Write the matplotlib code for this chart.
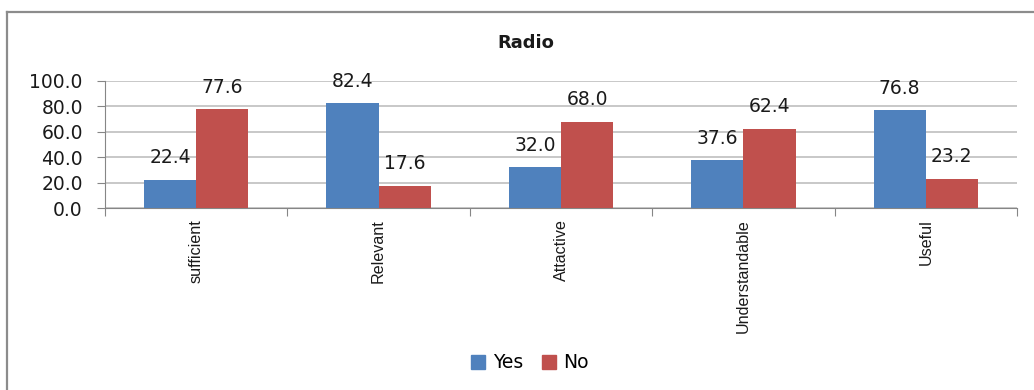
import matplotlib
matplotlib.use('Agg')
import matplotlib.pyplot as plt
from matplotlib.lines import Line2D
from matplotlib.patches import Patch
import numpy as np

categories = ['sufficient', 'Relevant', 'Attactive', 'Understandable', 'Useful']
yes_values = [22.4, 82.4, 32.0, 37.6, 76.8]
no_values = [77.6, 17.6, 68.0, 62.4, 23.2]
yticks = [0, 20, 40, 60, 80, 100]

BLUE = '#4F81BD'
RED = '#C0504D'
W, H = 1034, 390

fig = plt.figure(figsize=(W / 100, H / 100), dpi=100)
fig.patch.set_facecolor('white')

# outer chart frame (left and top edges only show)
frame_kw = dict(color='#8c8c8c', lw=1.6, transform=fig.transFigure)
fig.add_artist(Line2D([7 / W, 7 / W], [0, 1 - 12 / H], **frame_kw))
fig.add_artist(Line2D([7 / W, 1], [1 - 12 / H, 1 - 12 / H], **frame_kw))

ax = fig.add_axes([105 / W, 1 - 208 / H, (1017 - 105) / W, (208 - 81) / H])

x = np.arange(len(categories))
bw = 0.2857
bars_yes = ax.bar(x - bw / 2, yes_values, bw, color=BLUE, zorder=3)
bars_no = ax.bar(x + bw / 2, no_values, bw, color=RED, zorder=3)

for bars, vals in ((bars_yes, yes_values), (bars_no, no_values)):
    for b, v in zip(bars, vals):
        ax.annotate('%.1f' % v, (b.get_x() + b.get_width() / 2, v),
                    xytext=(0, 9), textcoords='offset points',
                    ha='center', va='bottom', fontsize=13.5, color='#1a1a1a')

ax.set_xlim(-0.5, len(categories) - 0.5)
ax.set_ylim(0, 100)
ax.set_yticks(yticks)
ax.set_yticklabels(['%.1f' % t for t in yticks], fontsize=13.5, color='#1a1a1a')
ax.yaxis.grid(True, color='#bfbfbf', lw=1.2, zorder=0)

# boundary ticks between groups, labels at the group centres
ax.set_xticks(np.arange(len(categories) + 1) - 0.5)
ax.set_xticklabels([])
ax.set_xticks(x, minor=True)
ax.set_xticklabels(categories, minor=True, rotation=90, va='top',
                   fontsize=11.6, family='Liberation Sans', color='#1a1a1a')
ax.tick_params(axis='x', which='minor', length=0, pad=8)
ax.tick_params(axis='x', which='major', length=6, color='#868686', direction='out')
ax.tick_params(axis='y', length=6, color='#868686', direction='out', pad=10)

for side in ('top', 'right'):
    ax.spines[side].set_visible(False)
ax.spines['left'].set_color('#868686')
ax.spines['bottom'].set_color('#868686')

fig.text(526 / W, 1 - 43 / H, 'Radio', ha='center', va='center',
         fontsize=13, fontweight='bold', color='#1a1a1a')

handles = [Patch(color=BLUE, label='Yes'), Patch(color=RED, label='No')]
fig.legend(handles=handles, loc='center', bbox_to_anchor=(530 / W, 1 - 363 / H),
           ncol=2, frameon=False, fontsize=13.5, handlelength=0.75, handleheight=0.75,
           handletextpad=0.4, columnspacing=1.0)

fig.savefig('out.png', dpi=100, facecolor='white')
